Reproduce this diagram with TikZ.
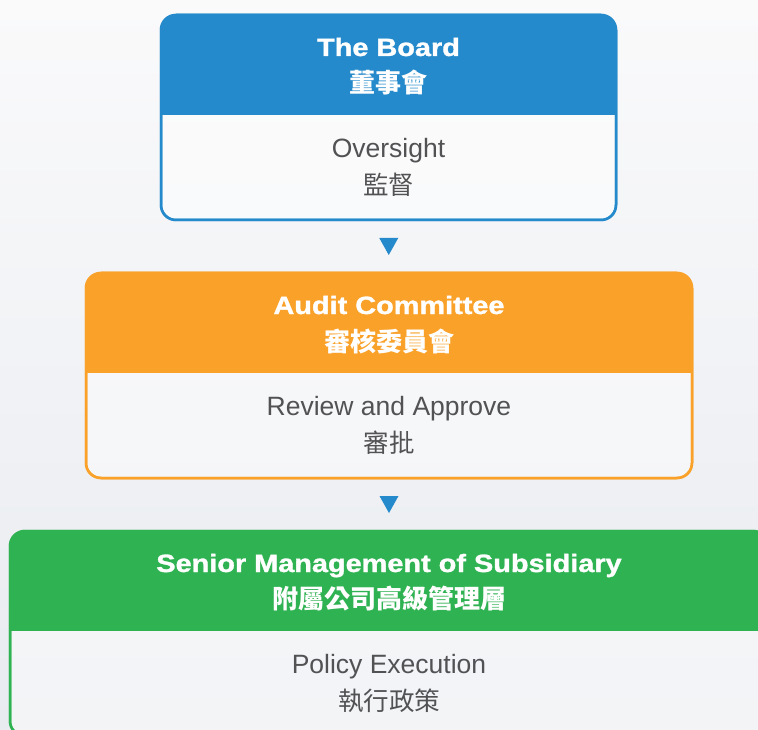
\documentclass[tikz,border=0pt]{standalone}
\usepackage{fontspec}
\setmainfont{Liberation Sans}
\newfontfamily\cjk{Noto Sans CJK TC}
\newfontfamily\headfont[FakeBold=1.2]{Liberation Sans Bold}
\definecolor{cblue}{RGB}{37,138,203}
\definecolor{corange}{RGB}{249,161,41}
\definecolor{cgreen}{RGB}{47,178,82}
\definecolor{ctext}{RGB}{82,82,84}
\definecolor{bgtop}{RGB}{250,250,251}
\definecolor{bgbot}{RGB}{232,235,240}
\tikzset{
  boxframe/.style={rectangle, rounded corners=15pt, line width=2.5pt, inner sep=0pt, outer sep=0pt, minimum height=205pt},
  headtxt/.style={inner sep=0pt, text=white, font=\headfont\fontsize{25}{30}\selectfont},
  headcjk/.style={inner sep=0pt, text=white, font=\cjk\fontsize{26}{30}\bfseries\selectfont},
  bodytxt/.style={inner sep=0pt, text=ctext, font=\fontsize{26.5}{30}\selectfont},
  bodycjk/.style={inner sep=0pt, text=ctext, font=\cjk\fontsize{25.5}{30}\selectfont},
  tri/.style={fill=cblue}
}
\newcommand\orgbox[9]{%
  \node[boxframe, draw=#5, fill=white, fill opacity=0.45, minimum width=#4pt, anchor=north] (#1) at (#2,#3) {};
  \begin{scope}
    \clip[rounded corners=15pt] (#1.north west) rectangle (#1.south east);
    \fill[#5] (#1.north west) rectangle ([yshift=-100pt]#1.north east);
  \end{scope}
  \draw[#5, line width=2.5pt, rounded corners=15pt] (#1.north west) rectangle (#1.south east);
  \node[headtxt, anchor=base] (#1-h1) at ([yshift=-41pt]#1.north) {\scalebox{1.155}[1]{#6}};
  \node[headcjk] (#1-h2) at ([yshift=-68pt]#1.north) {#7};
  \node[bodytxt, anchor=base] (#1-b1) at ([yshift=-142.5pt]#1.north) {#8};
  \node[bodycjk] (#1-b2) at ([yshift=-170pt]#1.north) {#9};
}
\begin{document}
\begin{tikzpicture}[x=1pt,y=-1pt]
\useasboundingbox (0,0) rectangle (758,730);
\shade[top color=bgtop, bottom color=bgbot] (0,0) rectangle (758,730);
\orgbox{board}{388.5}{15}{455}{cblue}{The Board}{董事會}{Oversight}{監督}
\orgbox{audit}{389}{273}{606}{corange}{Audit Committee}{審核委員會}{Review and Approve}{審批}
\orgbox{senior}{389}{531}{758}{cgreen}{Senior Management of Subsidiary}{附屬公司高級管理層}{Policy Execution}{執行政策}
\path (board.south) -- (audit.north) coordinate[midway] (t1);
\path (audit.south) -- (senior.north) coordinate[midway] (t2);
\fill[tri] (t1) ++(-9.5,-8.5) -- ++(19,0) -- ++(-9.5,17) -- cycle;
\fill[tri] (t2) ++(-9.5,-8.5) -- ++(19,0) -- ++(-9.5,17) -- cycle;
\end{tikzpicture}
\end{document}
